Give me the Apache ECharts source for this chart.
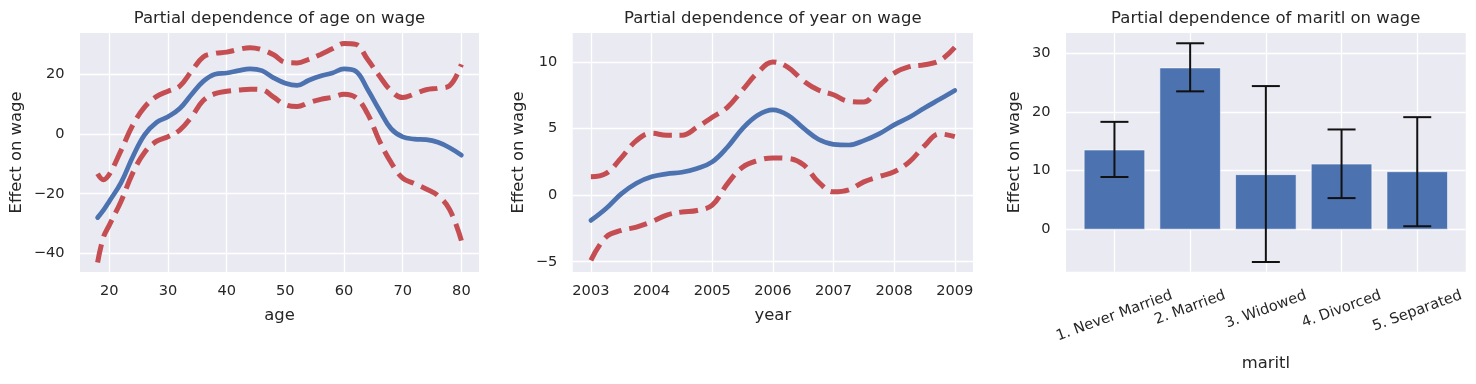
<!DOCTYPE html>
<html>
<head>
<meta charset="utf-8">
<title>Partial dependence on wage</title>
<script src="https://cdn.jsdelivr.net/npm/echarts@6/dist/echarts.min.js"></script>
<style>
  html, body { margin: 0; padding: 0; background: #fff; }
  #chart { width: 1476px; height: 384px; }
</style>
</head>
<body>
<div id="chart"></div>
<script>
// values
var ages = [18, 19, 20, 22, 24, 26, 28, 30, 32, 34, 36, 38, 40, 42, 44, 46, 48, 50, 52, 54, 56, 58, 60, 62, 64, 66, 68, 70, 72, 74, 76, 78, 80];
var ageFit = [-28, -25.5, -22.5, -16.3, -7.6, -0.3, 3.8, 5.8, 8.5, 13.2, 17.6, 20.0, 20.4, 21.2, 21.8, 21.2, 18.8, 17.0, 16.3, 18.0, 19.4, 20.4, 21.8, 21.0, 15.0, 8.1, 1.8, -1.0, -1.7, -1.9, -2.8, -4.6, -7.1];
var ageUpper = [-13.3, -15.3, -13.5, -5.5, 3.0, 9.0, 12.5, 14.3, 16.0, 21.0, 25.8, 27.0, 27.4, 28.3, 28.9, 28.2, 26.5, 24.0, 23.8, 25.0, 26.6, 28.5, 30.3, 30.0, 25.0, 19.5, 14.5, 12.2, 13.4, 14.8, 15.3, 16.2, 23.3];
var ageLower = [-43, -34.5, -30.5, -22.5, -13, -6.2, -2.5, -0.9, 1.3, 5.7, 11.2, 13.5, 14.3, 14.7, 15.0, 14.8, 12.3, 9.8, 9.2, 10.5, 11.6, 12.3, 13.3, 12.2, 6.8, -2.2, -9.5, -14.8, -16.6, -18.4, -20.6, -25.3, -35.7];

var years = [2003, 2003.25, 2003.5, 2003.75, 2004, 2004.25, 2004.5, 2004.75, 2005, 2005.25, 2005.5, 2005.75, 2006, 2006.25, 2006.5, 2006.75, 2007, 2007.25, 2007.5, 2007.75, 2008, 2008.25, 2008.5, 2008.75, 2009];
var yearFit = [-1.9, -1.0, 0.1, 0.9, 1.38, 1.6, 1.72, 2.0, 2.5, 3.6, 5.0, 6.0, 6.4, 6.0, 5.05, 4.2, 3.82, 3.77, 4.1, 4.6, 5.28, 5.85, 6.55, 7.2, 7.86];
var yearUpper = [1.38, 1.63, 2.8, 4.1, 4.65, 4.5, 4.5, 5.1, 5.85, 6.6, 7.9, 9.2, 10.0, 9.6, 8.6, 7.9, 7.54, 7.05, 7.0, 8.2, 9.17, 9.65, 9.8, 10.1, 11.1];
var yearLower = [-4.9, -3.14, -2.65, -2.4, -2.0, -1.5, -1.26, -1.15, -0.75, 0.85, 2.1, 2.6, 2.8, 2.76, 2.3, 1.0, 0.25, 0.4, 1.0, 1.4, 1.76, 2.5, 3.7, 4.6, 4.4];

var maritl = ['1. Never Married', '2. Married', '3. Widowed', '4. Divorced', '5. Separated'];
var maritlEffect = [13.5, 27.5, 9.3, 11.1, 9.8];
var maritlLow = [8.9, 23.5, -5.6, 5.3, 0.5];
var maritlHigh = [18.3, 31.7, 24.4, 17.0, 19.1];

var ageTicks = [20, 30, 40, 50, 60, 70, 80];
var ageEffectTicks = [-40, -20, 0, 20];
var yearTicks = [2003, 2004, 2005, 2006, 2007, 2008, 2009];
var yearEffectTicks = [-5, 0, 5, 10];
var maritlTicks = [0, 1, 2, 3, 4];
var maritlEffectTicks = [0, 10, 20, 30];

var FONT = '"DejaVu Sans", sans-serif';
var TXT = '#262626';
var BLUE = '#4C72B0';
var RED = '#C44E52';

function pairs(xs, ys) {
  return xs.map(function (x, i) { return [x, ys[i]]; });
}
function minus(v) {
  return v < 0 ? '\u2212' + Math.abs(v) : String(v);
}

// matplotlib centres rotated tick labels on their bounding box,
// so longer labels hang lower; shift each one with rich padding
var ROT = 20 * Math.PI / 180;
var ctx = document.createElement('canvas').getContext('2d');
ctx.font = '14.6px "DejaVu Sans"';
var widths = maritl.map(function (t) { return ctx.measureText(t).width; });
var wMin = Math.min.apply(null, widths);
var rich = {};
maritl.forEach(function (t, i) {
  var d = (widths[i] - wMin) * Math.sin(ROT) / 2;
  rich['l' + i] = {
    fontSize: 14.6, fontFamily: FONT, color: TXT,
    padding: [2 * d * Math.cos(ROT), 2 * d * Math.sin(ROT), 0, 0]
  };
});

var grids = [
  { left: 80, top: 33, width: 399, height: 239 },
  { left: 572.7, top: 33, width: 400.3, height: 239 },
  { left: 1066, top: 33, width: 399.7, height: 238.7 }
];

function xAxis(idx, min, max, ticks, name, gap, extra) {
  var ax = {
    type: 'value', gridIndex: idx, min: min, max: max,
    name: name, nameLocation: 'middle', nameGap: gap, nameMoveOverlap: false,
    nameTextStyle: { fontSize: 16.4, fontFamily: FONT, color: TXT },
    axisLine: { show: false },
    axisTick: { show: false, customValues: ticks },
    axisLabel: {
      customValues: ticks, margin: 12, fontSize: 14.6, fontFamily: FONT, color: TXT,
      formatter: function (v) { return String(v); }
    },
    splitLine: { show: true, lineStyle: { color: '#fff', width: 1.3 } }
  };
  if (extra) {
    for (var k in extra) ax.axisLabel[k] = extra[k];
  }
  return ax;
}
function yAxis(idx, min, max, ticks, gap) {
  return {
    type: 'value', gridIndex: idx, min: min, max: max,
    name: 'Effect on wage', nameLocation: 'middle', nameGap: gap, nameMoveOverlap: false,
    nameTextStyle: { fontSize: 16.4, fontFamily: FONT, color: TXT },
    axisLine: { show: false },
    axisTick: { show: false, customValues: ticks },
    axisLabel: { customValues: ticks, margin: 15.5, fontSize: 14.6, fontFamily: FONT, color: TXT, formatter: minus },
    splitLine: { show: true, lineStyle: { color: '#fff', width: 1.3 } }
  };
}

function fitLine(idx, data) {
  return {
    type: 'line', xAxisIndex: idx, yAxisIndex: idx, data: data,
    showSymbol: false, smooth: 0.4, silent: true,
    lineStyle: { color: BLUE, width: 4.7, cap: 'round' }
  };
}
function bandLine(idx, data) {
  return {
    type: 'line', xAxisIndex: idx, yAxisIndex: idx, data: data,
    showSymbol: false, smooth: 0.4, silent: true,
    lineStyle: { color: RED, width: 5, type: [18.5, 8], cap: 'butt' }
  };
}

var chart = echarts.init(document.getElementById('chart'), null, { renderer: 'canvas' });

var option = {
  backgroundColor: '#fff',
  animation: false,
  title: [
    { text: 'Partial dependence of age on wage', left: 279.5, top: 10.5 },
    { text: 'Partial dependence of year on wage', left: 772.8, top: 10.5 },
    { text: 'Partial dependence of maritl on wage', left: 1265.8, top: 10.5 }
  ].map(function (t) {
    t.padding = 0;
    t.textAlign = 'center';
    t.textVerticalAlign = 'top';
    t.textStyle = { fontSize: 16.5, fontWeight: 'normal', fontFamily: FONT, color: TXT };
    return t;
  }),
  grid: grids.map(function (g) {
    g.show = true;
    g.backgroundColor = '#EAEAF2';
    g.borderWidth = 0;
    g.containLabel = false;
    g.outerBoundsMode = 'none';
    return g;
  }),
  xAxis: [
    xAxis(0, 15.0, 83.0, ageTicks, 'age', 35.5),
    xAxis(1, 2002.7, 2009.3, yearTicks, 'year', 35.5),
    xAxis(2, -0.64, 4.64, maritlTicks, 'maritl', 84.4, {
      rotate: 20, align: 'center', verticalAlign: 'middle', margin: 36, rich: rich,
      formatter: function (v) { return '{l' + v + '|' + maritl[v] + '}'; }
    })
  ],
  yAxis: [
    yAxis(0, -46.2, 33.8, ageEffectTicks, 55.5),
    yAxis(1, -5.77, 12.18, yearEffectTicks, 45.5),
    yAxis(2, -7.25, 33.45, maritlEffectTicks, 43.2)
  ],
  series: [
    fitLine(0, pairs(ages, ageFit)),
    bandLine(0, pairs(ages, ageUpper)),
    bandLine(0, pairs(ages, ageLower)),
    fitLine(1, pairs(years, yearFit)),
    bandLine(1, pairs(years, yearUpper)),
    bandLine(1, pairs(years, yearLower)),
    {
      type: 'custom', xAxisIndex: 2, yAxisIndex: 2, silent: true,
      data: maritlEffect.map(function (v, i) { return [i, v]; }),
      renderItem: function (params, api) {
        var x = api.value(0);
        var p0 = api.coord([x - 0.4, 0]);
        var p1 = api.coord([x + 0.4, api.value(1)]);
        return {
          type: 'rect',
          shape: { x: p0[0], y: Math.min(p0[1], p1[1]), width: p1[0] - p0[0], height: Math.abs(p1[1] - p0[1]) },
          style: { fill: BLUE, stroke: 'rgba(255,255,255,0.7)', lineWidth: 0.8 }
        };
      }
    },
    {
      type: 'custom', xAxisIndex: 2, yAxisIndex: 2, silent: true, z: 3,
      data: maritlLow.map(function (v, i) { return [i, v, maritlHigh[i]]; }),
      encode: { x: 0, y: [1, 2] },
      renderItem: function (params, api) {
        var x = api.value(0);
        var lo = api.coord([x, api.value(1)]);
        var hi = api.coord([x, api.value(2)]);
        var cap = 14;
        var st = { stroke: '#111', lineWidth: 2 };
        return {
          type: 'group',
          children: [
            { type: 'line', shape: { x1: lo[0], y1: lo[1], x2: hi[0], y2: hi[1] }, style: st },
            { type: 'line', shape: { x1: lo[0] - cap, y1: lo[1], x2: lo[0] + cap, y2: lo[1] }, style: st },
            { type: 'line', shape: { x1: hi[0] - cap, y1: hi[1], x2: hi[0] + cap, y2: hi[1] }, style: st }
          ]
        };
      }
    }
  ]
};

chart.setOption(option);
</script>
</body>
</html>
